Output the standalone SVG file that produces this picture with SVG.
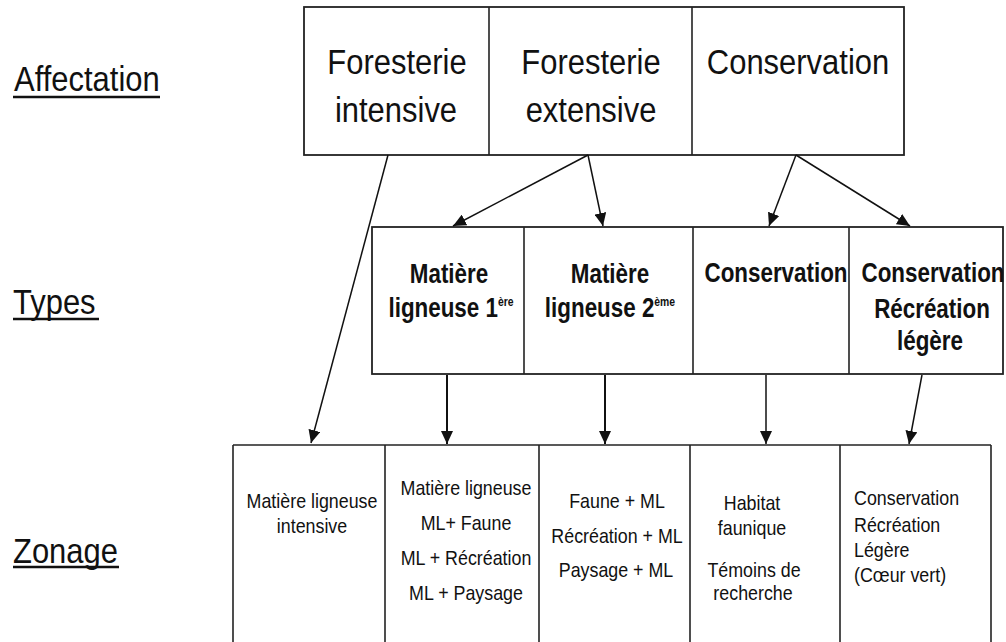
<svg xmlns="http://www.w3.org/2000/svg" width="1006" height="642" viewBox="0 0 1006 642">
<style>
text{font-family:"Liberation Sans",Arial,sans-serif;fill:#111;}
.lbl{font-size:36px;}
.big{font-size:36px;}
.typ{font-size:28px;font-weight:bold;}
.zon{font-size:21px;}
.box{fill:#fff;stroke:#222;stroke-width:1.8;}
.div{stroke:#222;stroke-width:1.6;fill:none;}
.ul{stroke:#111;stroke-width:2.5;}
.con{stroke:#111;stroke-width:1.5;fill:none;marker-end:url(#ah);}
.con2{stroke:#111;stroke-width:2;fill:none;marker-end:url(#ah);}
</style>
<defs>
<marker id="ah" markerUnits="userSpaceOnUse" markerWidth="14" markerHeight="12" refX="13" refY="6" orient="auto">
<path d="M0,0 L13,6 L0,12 Z" fill="#111"/>
</marker>
</defs>
<rect width="1006" height="642" fill="#fff"/>

<g id="labels">
<text class="lbl" transform="translate(14,91) scale(0.86,1)">Affectation</text>
<line class="ul" x1="13" y1="97" x2="160" y2="97"/>
<text class="lbl" transform="translate(13,314) scale(0.86,1)">Types</text>
<line class="ul" x1="13" y1="319" x2="99" y2="319"/>
<text class="lbl" transform="translate(13,563) scale(0.86,1)">Zonage</text>
<line class="ul" x1="13" y1="567" x2="119" y2="567"/>
</g>

<g id="affectation">
<rect class="box" x="304" y="7" width="600" height="148"/>
<line class="div" x1="489" y1="7" x2="489" y2="155"/>
<line class="div" x1="692" y1="7" x2="692" y2="155"/>
<g id="a-intensive">
<text class="big" text-anchor="middle" transform="translate(397,74) scale(0.86,1)">Foresterie</text>
<text class="big" text-anchor="middle" transform="translate(396,122) scale(0.86,1)">intensive</text>
</g>
<g id="a-extensive">
<text class="big" text-anchor="middle" transform="translate(591,74) scale(0.86,1)">Foresterie</text>
<text class="big" text-anchor="middle" transform="translate(591,122) scale(0.86,1)">extensive</text>
</g>
<g id="a-conservation">
<text class="big" text-anchor="middle" transform="translate(798,74) scale(0.86,1)">Conservation</text>
</g>
</g>

<g id="types">
<rect class="box" x="372" y="227" width="631" height="147"/>
<line class="div" x1="524" y1="227" x2="524" y2="374"/>
<line class="div" x1="693" y1="227" x2="693" y2="374"/>
<line class="div" x1="849" y1="227" x2="849" y2="374"/>
<g id="t-ml1">
<text class="typ" text-anchor="middle" transform="translate(449,283) scale(0.8,1)">Matière</text>
<text class="typ" text-anchor="middle" transform="translate(451,317) scale(0.8,1)">ligneuse 1<tspan font-size="13" dy="-11">ère</tspan></text>
</g>
<g id="t-ml2">
<text class="typ" text-anchor="middle" transform="translate(610,283) scale(0.8,1)">Matière</text>
<text class="typ" text-anchor="middle" transform="translate(610,317) scale(0.8,1)">ligneuse 2<tspan font-size="13" dy="-11">ème</tspan></text>
</g>
<g id="t-cons">
<text class="typ" text-anchor="middle" transform="translate(776,282) scale(0.8,1)">Conservation</text>
</g>
<g id="t-consrec">
<text class="typ" text-anchor="middle" transform="translate(933,282) scale(0.8,1)">Conservation</text>
<text class="typ" text-anchor="middle" transform="translate(932,318) scale(0.8,1)">Récréation</text>
<text class="typ" text-anchor="middle" transform="translate(930,350) scale(0.8,1)">légère</text>
</g>
</g>

<g id="zonage">
<line class="div" x1="233" y1="445" x2="991" y2="445"/>
<line class="div" x1="233" y1="445" x2="233" y2="642"/>
<line class="div" x1="385" y1="445" x2="385" y2="642"/>
<line class="div" x1="539" y1="445" x2="539" y2="642"/>
<line class="div" x1="690" y1="445" x2="690" y2="642"/>
<line class="div" x1="840" y1="445" x2="840" y2="642"/>
<line class="div" x1="991" y1="445" x2="991" y2="642"/>
<g id="z1">
<text class="zon" text-anchor="middle" transform="translate(312,508) scale(0.85,1)">Matière ligneuse</text>
<text class="zon" text-anchor="middle" transform="translate(312,533) scale(0.85,1)">intensive</text>
</g>
<g id="z2">
<text class="zon" text-anchor="middle" transform="translate(466,495) scale(0.85,1)">Matière ligneuse</text>
<text class="zon" text-anchor="middle" transform="translate(466,530) scale(0.85,1)">ML+ Faune</text>
<text class="zon" text-anchor="middle" transform="translate(466,565) scale(0.85,1)">ML + Récréation</text>
<text class="zon" text-anchor="middle" transform="translate(466,600) scale(0.85,1)">ML + Paysage</text>
</g>
<g id="z3">
<text class="zon" text-anchor="middle" transform="translate(617,508) scale(0.85,1)">Faune + ML</text>
<text class="zon" text-anchor="middle" transform="translate(617,543) scale(0.85,1)">Récréation + ML</text>
<text class="zon" text-anchor="middle" transform="translate(616,577) scale(0.85,1)">Paysage + ML</text>
</g>
<g id="z4">
<text class="zon" text-anchor="middle" transform="translate(752,510) scale(0.85,1)">Habitat</text>
<text class="zon" text-anchor="middle" transform="translate(752,535) scale(0.85,1)">faunique</text>
<text class="zon" text-anchor="middle" transform="translate(754,577) scale(0.85,1)">Témoins de</text>
<text class="zon" text-anchor="middle" transform="translate(753,600) scale(0.85,1)">recherche</text>
</g>
<g id="z5">
<text class="zon" transform="translate(854,505) scale(0.85,1)">Conservation</text>
<text class="zon" transform="translate(854,532) scale(0.85,1)">Récréation</text>
<text class="zon" transform="translate(854,557) scale(0.85,1)">Légère</text>
<text class="zon" transform="translate(854,582) scale(0.85,1)">(Cœur vert)</text>
</g>
</g>

<g id="connectors">
<line class="con" x1="388" y1="155" x2="311" y2="443"/>
<line class="con" x1="588" y1="155" x2="453" y2="226"/>
<line class="con" x1="588" y1="155" x2="603" y2="226"/>
<line class="con" x1="796" y1="155" x2="769" y2="226"/>
<line class="con" x1="796" y1="155" x2="910" y2="226"/>
<line class="con2" x1="447" y1="375" x2="447" y2="444"/>
<line class="con2" x1="605" y1="375" x2="605" y2="444"/>
<line class="con" x1="766" y1="375" x2="766" y2="444"/>
<line class="con" x1="922" y1="375" x2="909" y2="444"/>
</g>
</svg>
